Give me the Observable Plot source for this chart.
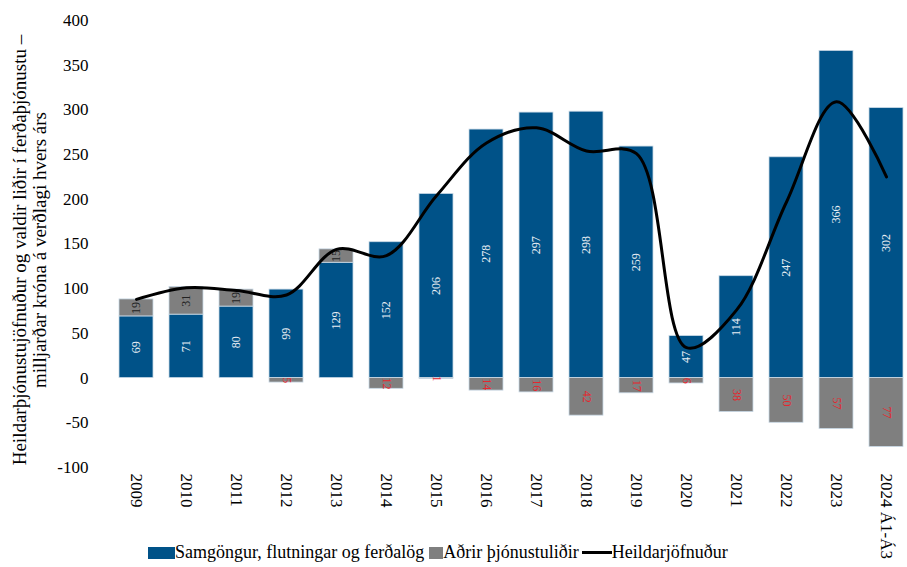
<!DOCTYPE html>
<html>
<head>
<meta charset="utf-8">
<script src="https://cdn.jsdelivr.net/npm/d3@7"></script>
<script src="https://cdn.jsdelivr.net/npm/@observablehq/plot@0.6"></script>
<style>
  html, body { margin: 0; padding: 0; background: #fff; overflow: hidden; width: 907px; height: 567px; }
  #wrap { position: relative; width: 907px; height: 567px; }
  #legend { position: absolute; left: 148px; top: 542px; display: flex; align-items: center; font-family: 'Liberation Serif', 'Times New Roman', serif; font-size: 18px; color: #000; white-space: nowrap; }
  .sw { display: inline-block; height: 12px; }
  .ln { display: inline-block; width: 30px; height: 3px; background: #000; }
</style>
</head>
<body>
<div id="wrap">
  <div id="chart"></div>
  <div id="legend">
    <span class="sw" style="width:27px;background:#005288"></span><span>Samgöngur, flutningar og ferðalög</span>
    <span class="sw" style="width:14px;background:#7f7f7f;margin-left:5px"></span><span>Aðrir þjónustuliðir</span>
    <span class="ln" style="margin-left:3px"></span><span>Heildarjöfnuður</span>
  </div>
</div>
<script>
const years = ["2009","2010","2011","2012","2013","2014","2015","2016","2017","2018","2019","2020","2021","2022","2023","2024 Á1-Á3"];
const transport = [69, 71, 80, 99, 129, 152, 206, 278, 297, 298, 259, 47, 114, 247, 366, 302];
const otherServices = [19, 31, 19, -5, 15, -12, -1, -14, -16, -42, -17, -6, -38, -50, -57, -77];
const totalBalance = [88, 101, 98, 93, 144, 137, 204, 263, 280, 254, 251, 34, 76, 197, 309, 225];
const yTicks = [-100, -50, 0, 50, 100, 150, 200, 250, 300, 350, 400];

const seriesNames = ["Samgöngur, flutningar og ferðalög", "Aðrir þjónustuliðir"];
const colors = ["#005288", "#7f7f7f"];

const rows = [];
years.forEach((yr, i) => {
  rows.push({year: yr, series: seriesNames[0], value: transport[i]});
  rows.push({year: yr, series: seriesNames[1], value: otherServices[i]});
});
const blueLabels = years.map((yr, i) => ({year: yr, y: transport[i] / 2, text: String(transport[i])}));
const grayPos = years.map((yr, i) => ({year: yr, v: otherServices[i], y: transport[i] + otherServices[i] / 2, text: String(otherServices[i])})).filter(d => d.v > 0);
const grayNeg = years.map((yr, i) => ({year: yr, v: otherServices[i], y: otherServices[i] / 2, text: String(Math.abs(otherServices[i]))})).filter(d => d.v < 0);
const lineData = years.map((yr, i) => ({year: yr, total: totalBalance[i]}));

const font = "'Liberation Serif', 'Times New Roman', serif";

const chart = Plot.plot({
  width: 907,
  height: 540,
  marginTop: 20,
  marginBottom: 73,
  marginLeft: 105,
  marginRight: 0,
  style: {fontFamily: font, fontSize: "17px", background: "transparent", overflow: "visible"},
  x: {domain: years, range: [104.6, 917.6], paddingInner: 0.33, paddingOuter: 0.165, tickSize: 0, tickPadding: 6, tickRotate: 90, label: null},
  y: {domain: [-100, 400], ticks: yTicks, tickFormat: d => String(d), tickSize: 0, tickPadding: 17, label: null},
  color: {domain: seriesNames, range: colors},
  marks: [
    Plot.barY(rows, {x: "year", y: "value", fill: "series", order: seriesNames, stroke: "#c9d9e6", strokeWidth: 0.8}),
    Plot.text(blueLabels, {x: "year", y: "y", text: "text", rotate: -90, fill: "#e8eef4", fontSize: 12}),
    Plot.text(grayPos, {x: "year", y: "y", text: "text", rotate: -90, fill: "#222", fontSize: 12}),
    Plot.text(grayNeg, {x: "year", y: "y", text: "text", rotate: 90, fill: "#e6262e", fontSize: 12}),
    Plot.line(lineData, {x: "year", y: "total", curve: "catmull-rom", stroke: "#000", strokeWidth: 3})
  ]
});
document.getElementById("chart").appendChild(chart);

// y-axis title (two lines, rotated)
const svg = d3.select(chart);
const t = svg.append("text")
  .attr("transform", "translate(30,250) rotate(-90)")
  .attr("text-anchor", "middle")
  .attr("font-family", font)
  .attr("font-size", "19px")
  .attr("fill", "#000");
t.append("tspan").attr("x", 0).attr("dy", "-0.2em").text("Heildarþjónustujöfnuður og valdir liðir í ferðaþjónustu –");
t.append("tspan").attr("x", 0).attr("dy", "1.05em").text("milljarðar króna á verðlagi hvers árs");
</script>
</body>
</html>
